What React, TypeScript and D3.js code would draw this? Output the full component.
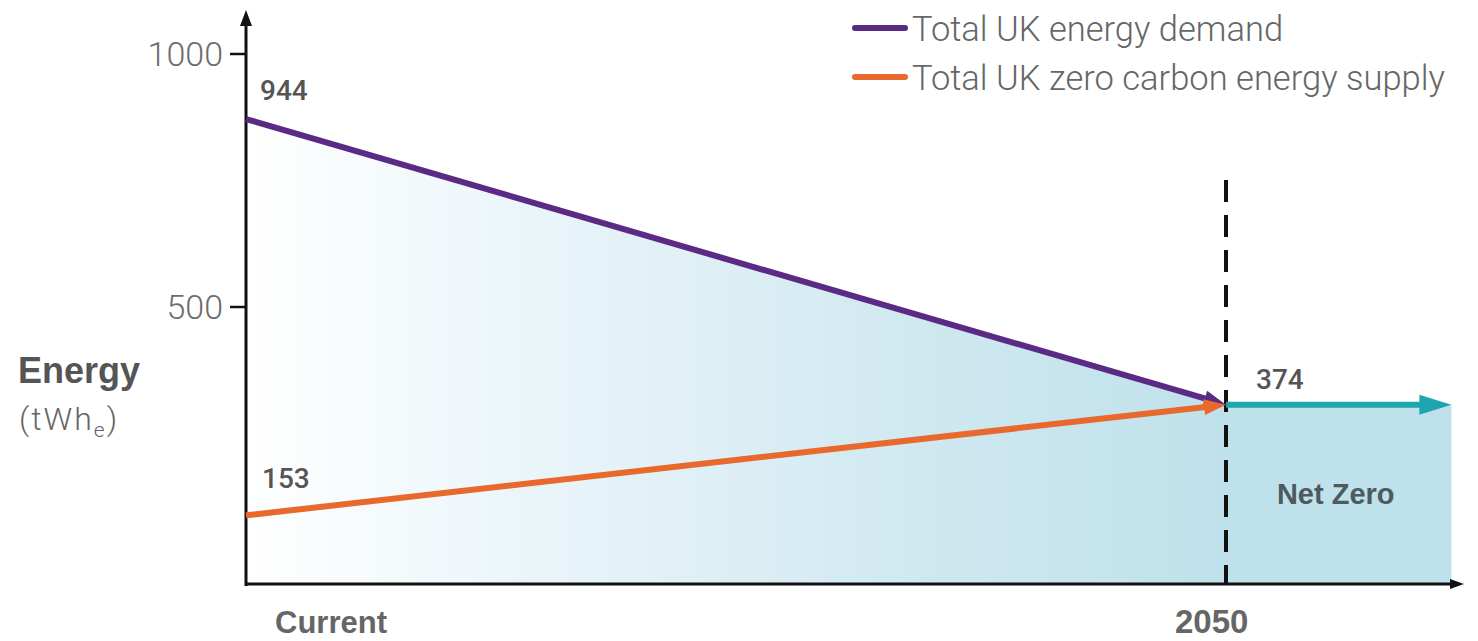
import React from "react";
import * as d3 from "d3";

const periods = ["Current", "2050"];
const periodPos = [0, 1];
const netZeroEnd = 1.23;
const demand = [944, 374];
const zeroCarbonSupply = [153, 374];
const netZeroLevel = 374;
const yTicks = [500, 1000];
const legendItems = [
  { label: "Total UK energy demand", color: "#5a2a85" },
  { label: "Total UK zero carbon energy supply", color: "#e8692b" },
];

const W = 1478;
const H = 641;

export default function App() {
  const x = d3.scaleLinear().domain([0, 1]).range([246, 1226]);
  // data scale (illustrative chart: line positions)
  const y = d3.scaleLinear().domain([0, 1000]).range([592, 91]);
  // axis tick scale
  const yAxis = d3.scaleLinear().domain([0, 1000]).range([560, 54]);
  const axisY = 584;
  const axisX = 246;

  const demandPts: [number, number][] = periodPos.map((p, i) => [x(p), y(demand[i])]);
  const supplyPts: [number, number][] = periodPos.map((p, i) => [x(p), y(zeroCarbonSupply[i])]);

  const area = d3
    .area<[number, number]>()
    .x((d) => d[0])
    .y0(axisY)
    .y1((d) => d[1]);

  const line = d3.line<[number, number]>();

  const arrowHead = (from: [number, number], to: [number, number], len = 22, half = 8) => {
    const dx = to[0] - from[0];
    const dy = to[1] - from[1];
    const L = Math.hypot(dx, dy);
    const ux = dx / L, uy = dy / L;
    const bx = to[0] - ux * len, by = to[1] - uy * len;
    const px = -uy, py = ux;
    return `M${to[0]},${to[1]}L${bx + px * half},${by + py * half}L${bx - px * half},${by - py * half}Z`;
  };
  const shorten = (from: [number, number], to: [number, number], d: number): [number, number] => {
    const dx = to[0] - from[0];
    const dy = to[1] - from[1];
    const L = Math.hypot(dx, dy);
    return [to[0] - (dx / L) * d, to[1] - (dy / L) * d];
  };

  const nzY = y(netZeroLevel);
  const nzStart: [number, number] = [x(1), nzY];
  const nzEnd: [number, number] = [x(netZeroEnd), nzY];

  const labelFont = "Roboto, 'Liberation Sans', sans-serif";
  const boldFont = "'Liberation Sans', Arial, sans-serif";

  return (
    <svg width={W} height={H} style={{ position: "absolute", left: 0, top: 0, background: "#fff" }}>
      <defs>
        <linearGradient id="fade" x1={x(0)} x2={x(1)} y1={0} y2={0} gradientUnits="userSpaceOnUse">
          <stop offset="0" stopColor="#ffffff" />
          <stop offset="0.35" stopColor="#e6f3f8" />
          <stop offset="0.7" stopColor="#cfe8f0" />
          <stop offset="1" stopColor="#bfe1eb" />
        </linearGradient>
      </defs>

      {/* shaded area under demand */}
      <path d={area(demandPts) || ""} fill="url(#fade)" />
      {/* net zero region */}
      <rect x={x(1)} y={nzY} width={x(netZeroEnd) - x(1)} height={axisY - nzY} fill="#bfe1eb" />

      {/* axes */}
      <line x1={axisX} x2={axisX} y1={axisY + 2} y2={22} stroke="#111" strokeWidth={3} />
      <path d={`M${axisX},10L${axisX - 6},26L${axisX + 6},26Z`} fill="#111" />
      <line x1={axisX - 1} x2={1452} y1={axisY} y2={axisY} stroke="#111" strokeWidth={3} />
      <path d={`M1464,${axisY}L1450,${axisY - 5}L1450,${axisY + 5}Z`} fill="#111" />

      {yTicks.map((t) => (
        <g key={t}>
          <line x1={axisX - 16} x2={axisX} y1={yAxis(t)} y2={yAxis(t)} stroke="#111" strokeWidth={2.5} />
          <text
            x={axisX - 23}
            y={yAxis(t)}
            textAnchor="end"
            dominantBaseline="central"
            fontFamily={labelFont}
            fontWeight={300}
            fontSize={34}
            fill="#6d6d6d"
          >
            {t}
          </text>
        </g>
      ))}

      {/* dashed 2050 line */}
      <line
        x1={x(1)}
        x2={x(1)}
        y1={180}
        y2={axisY}
        stroke="#111"
        strokeWidth={4}
        strokeDasharray="22 13"
      />

      {/* demand line */}
      <path
        d={line([demandPts[0], shorten(demandPts[0], demandPts[1], 16)]) || ""}
        stroke="#5a2a85"
        strokeWidth={6}
        fill="none"
      />
      <path d={arrowHead(demandPts[0], demandPts[1])} fill="#5a2a85" />

      {/* supply line */}
      <path
        d={line([supplyPts[0], shorten(supplyPts[0], supplyPts[1], 16)]) || ""}
        stroke="#e8692b"
        strokeWidth={6}
        fill="none"
      />
      <path d={arrowHead(supplyPts[0], supplyPts[1])} fill="#e8692b" />

      {/* net zero arrow */}
      <path d={line([nzStart, shorten(nzStart, nzEnd, 16)]) || ""} stroke="#1fa5ae" strokeWidth={6} fill="none" />
      <path d={arrowHead(nzStart, nzEnd, 32, 10)} fill="#1fa5ae" />

      {/* value labels */}
      <text x={x(0) + 14} y={y(demand[0]) - 19} fontFamily={labelFont} fontWeight={500} fontSize={28} fill="#555">
        {demand[0]}
      </text>
      <text x={x(0) + 16} y={y(zeroCarbonSupply[0]) - 27} fontFamily={labelFont} fontWeight={500} fontSize={28} fill="#555">
        {zeroCarbonSupply[0]}
      </text>
      <text x={x(1) + 30} y={nzY - 16} fontFamily={labelFont} fontWeight={500} fontSize={28} fill="#555">
        {netZeroLevel}
      </text>
      <text
        x={(x(1) + x(netZeroEnd)) / 2 - 3}
        y={504}
        textAnchor="middle"
        fontFamily={boldFont}
        fontWeight={700}
        fontSize={29}
        fill="#4d5a60"
      >
        Net Zero
      </text>

      {/* x labels */}
      {periods.map((p, i) => (
        <text
          key={p}
          x={i === 0 ? x(periodPos[i]) + 29 : x(periodPos[i]) - 51}
          y={633}
          fontFamily={boldFont}
          fontWeight={700}
          fontSize={i === 0 ? 31 : 33}
          fill="#666"
        >
          {p}
        </text>
      ))}

      {/* y title */}
      <text x={18} y={383} fontFamily={boldFont} fontWeight={700} fontSize={36} fill="#555">
        Energy
      </text>
      <text x={19} y={430} fontFamily={labelFont} fontWeight={300} fontSize={32} letterSpacing={2} fill="#666">
        (tWh
        <tspan fontSize={21} dy={7}>e</tspan>
        <tspan dy={-7}>)</tspan>
      </text>

      {/* legend */}
      {legendItems.map((it, i) => (
        <g key={it.label} transform={`translate(855, ${28 + i * 49})`}>
          <line x1={0} x2={50} y1={0} y2={0} stroke={it.color} strokeWidth={6} strokeLinecap="round" />
          <text x={57} y={1} dominantBaseline="central" fontFamily={labelFont} fontWeight={300} fontSize={34.5} fill="#666">
            {it.label}
          </text>
        </g>
      ))}
    </svg>
  );
}
